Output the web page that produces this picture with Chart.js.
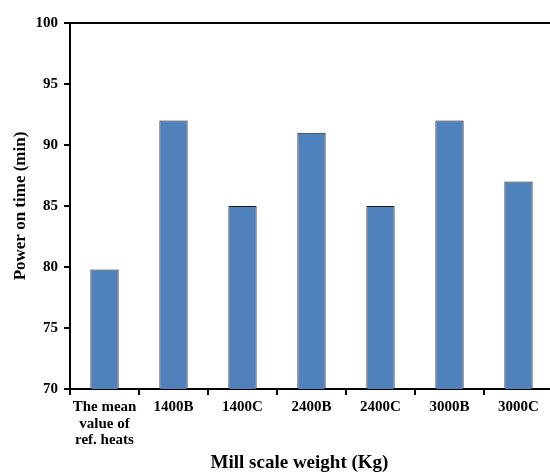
<!DOCTYPE html>
<html><head><meta charset="utf-8">
<script src="https://cdn.jsdelivr.net/npm/chart.js@4"></script>
<style>html,body{margin:0;padding:0;overflow:hidden;background:#fff}#wrap{width:560px;height:472px}</style>
</head><body><div id="wrap"><canvas id="c" width="560" height="472"></canvas></div>
<script>
const categories = [["The mean","value of","ref. heats"],"1400B","1400C","2400B","2400C","3000B","3000C"];
const powerOnTime = [79.8, 92, 85, 91, 85, 92, 87];
const yMin = 70, yMax = 100, yStep = 5;
const xTitle = "Mill scale weight (Kg)";
const yTitle = "Power on time (min)";

const FONT = "'Liberation Serif', 'Times New Roman', serif";

const framePlugin = {
  id: 'frame',
  afterDatasetsDraw(chart) {
    const {ctx, chartArea: a} = chart;
    ctx.save();
    ctx.strokeStyle = '#000';
    ctx.lineWidth = 2;
    ctx.beginPath();
    ctx.moveTo(a.left, a.top);
    ctx.lineTo(a.right, a.top);
    ctx.lineTo(a.right, a.bottom);
    ctx.stroke();
    // x-axis title, centred slightly left of the plot centre as in the source figure
    ctx.fillStyle = '#000';
    ctx.font = "bold 19px " + FONT;
    ctx.textAlign = 'center';
    ctx.textBaseline = 'middle';
    ctx.fillText(xTitle, (a.left + a.right) / 2 - 12, chart.height - 9);
    ctx.restore();
  }
};

new Chart(document.getElementById('c'), {
  type: 'bar',
  data: {
    labels: categories,
    datasets: [{
      data: powerOnTime,
      backgroundColor: '#4F81BD',
      borderColor: '#1a1a1a',
      borderWidth: 1,
      borderSkipped: false,
      barPercentage: 0.41,
      categoryPercentage: 1
    }]
  },
  options: {
    responsive: false,
    animation: false,
    devicePixelRatio: 1,
    layout: { padding: { left: 0, top: 23, right: 7, bottom: 0 } },
    plugins: { legend: { display: false }, tooltip: { enabled: false } },
    scales: {
      x: {
        grid: { display: true, offset: true, drawOnChartArea: false, drawTicks: true, tickLength: 6, color: '#000', lineWidth: 2 },
        border: { display: true, color: '#000', width: 2 },
        ticks: { color: '#000', padding: 4, maxRotation: 0, autoSkip: false, font: { family: FONT, size: 15, weight: 'bold', lineHeight: 1.1 } },
        title: { display: false },
        afterFit(s) { s.height = 472 - 389; }
      },
      y: {
        min: yMin, max: yMax,
        grid: { display: true, drawOnChartArea: false, drawTicks: true, tickLength: 6, color: '#000', lineWidth: 2 },
        border: { display: true, color: '#000', width: 2 },
        ticks: { stepSize: yStep, color: '#000', padding: 6, font: { family: FONT, size: 15, weight: 'bold' } },
        title: { display: true, text: yTitle, color: '#000', padding: { top: 10, bottom: 0 }, font: { family: FONT, size: 17, weight: 'bold' } },
        afterFit(s) { s.width = 70; }
      }
    }
  },
  plugins: [framePlugin]
});
</script></body></html>
